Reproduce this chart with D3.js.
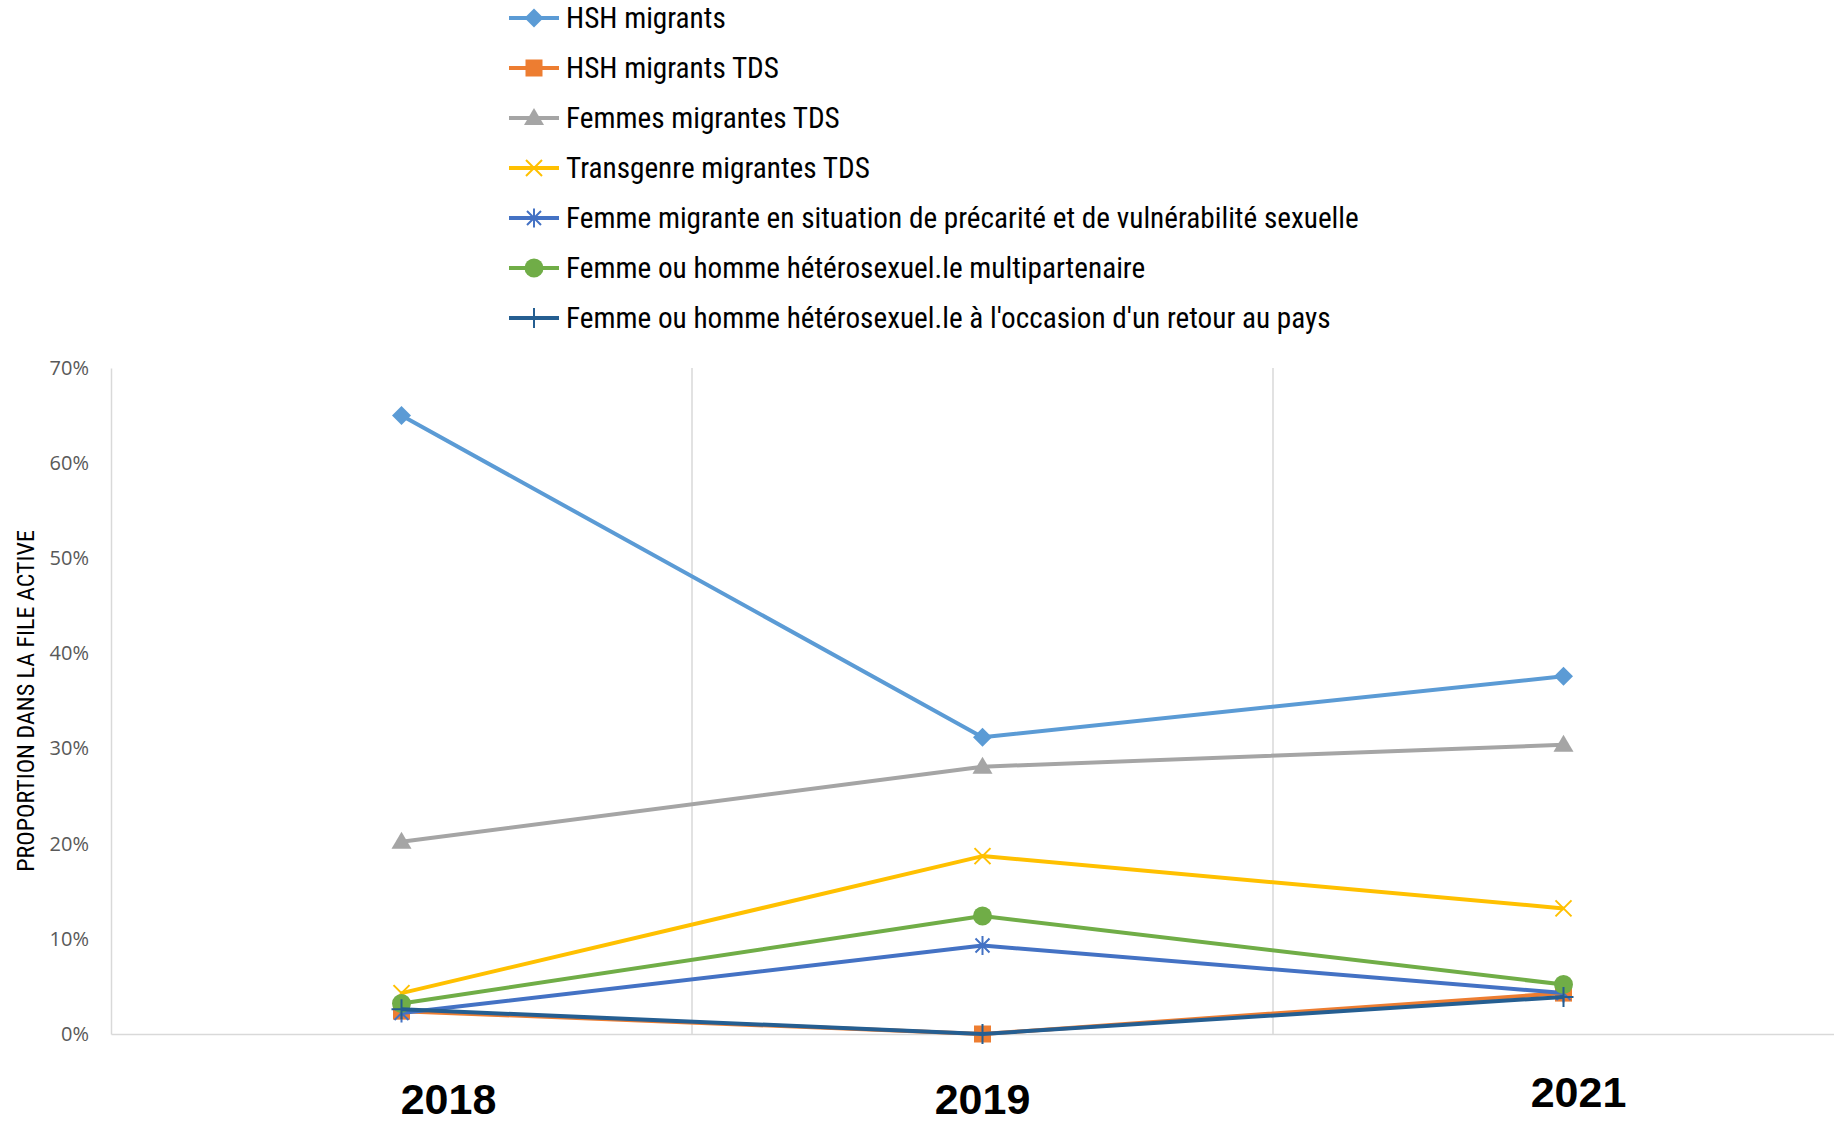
<!DOCTYPE html>
<html>
<head>
<meta charset="utf-8">
<script src="https://cdn.jsdelivr.net/npm/d3@7"></script>
<style>
  html, body { margin: 0; padding: 0; background: #ffffff; }
  svg { display: block; }
</style>
</head>
<body>
<svg id="chart" width="1834" height="1123"></svg>
<script>
// ---------- data ----------
const years = ["2018", "2019", "2021"];
const seriesNames = [
  "HSH migrants",
  "HSH migrants TDS",
  "Femmes migrantes TDS",
  "Transgenre migrantes TDS",
  "Femme migrante en situation de précarité et de vulnérabilité sexuelle",
  "Femme ou homme hétérosexuel.le multipartenaire",
  "Femme ou homme hétérosexuel.le à l'occasion d'un retour au pays"
];
const hshMigrants        = [0.650, 0.312, 0.376];
const hshMigrantsTDS     = [0.024, 0.000, 0.043];
const femmesMigrantesTDS = [0.202, 0.281, 0.304];
const transgenreTDS      = [0.043, 0.187, 0.132];
const femmePrecarite     = [0.022, 0.093, 0.043];
const heteroMulti        = [0.032, 0.124, 0.052];
const heteroRetour       = [0.026, 0.000, 0.039];
const yTicks = [0, 0.1, 0.2, 0.3, 0.4, 0.5, 0.6, 0.7];
const yTitle = "PROPORTION DANS LA FILE ACTIVE";

const seriesValues = [hshMigrants, hshMigrantsTDS, femmesMigrantesTDS, transgenreTDS,
                      femmePrecarite, heteroMulti, heteroRetour];

// ---------- styles ----------
const colors = ["#5B9BD5", "#ED7D31", "#A5A5A5", "#FFC000", "#4472C4", "#70AD47", "#255E91"];
const markers = ["diamond", "square", "triangle", "x", "star", "circle", "plus"];

function markerPath(type) {
  switch (type) {
    case "diamond": return "M0,-9.5L9.5,0L0,9.5L-9.5,0Z";
    case "square": return "M-8.5,-8.5H8.5V8.5H-8.5Z";
    case "triangle": return "M0,-10L10,7L-10,7Z";
    case "x": return "M-8,-8L8,8M-8,8L8,-8";
    case "star": return "M-7,-7L7,7M-7,7L7,-7M0,-9.5L0,9.5";
    case "circle": return "M9.5,0A9.5,9.5 0 1,1 -9.5,0A9.5,9.5 0 1,1 9.5,0Z";
    case "plus": return "M-10,0L10,0M0,-10L0,10";
  }
}
const filledMarker = t => ["diamond", "square", "triangle", "circle"].includes(t);

const svg = d3.select("#chart");

const plotLeft = 111, plotRight = 1854, plotTop = 368, plotBottom = 1034;

const x = d3.scaleBand().domain(years).range([plotLeft, plotRight]).paddingInner(0).paddingOuter(0);
const y = d3.scaleLinear().domain([0, 0.7]).range([plotBottom, plotTop]);

// vertical gridlines between categories
svg.append("g").selectAll("line")
  .data(years.slice(1))
  .join("line")
  .attr("x1", d => x(d)).attr("x2", d => x(d))
  .attr("y1", plotTop).attr("y2", plotBottom)
  .attr("stroke", "#D9D9D9").attr("stroke-width", 1.5);

// y axis
const yAxis = d3.axisLeft(y).tickValues(yTicks).tickFormat(d3.format(".0%")).tickSize(0).tickPadding(22);
const gy = svg.append("g").attr("transform", `translate(${plotLeft},0)`).call(yAxis);
gy.select(".domain").attr("stroke", "#D9D9D9").attr("stroke-width", 1.5);
gy.selectAll("text")
  .attr("font-family", "'Open Sans', 'Noto Sans', sans-serif")
  .attr("font-size", 20).attr("fill", "#595959");

// x axis line
const xAxis = d3.axisBottom(x).tickSize(0).tickFormat("");
const gx = svg.append("g").attr("transform", `translate(0,${plotBottom})`).call(xAxis);
gx.select(".domain").attr("stroke", "#D9D9D9").attr("stroke-width", 1.5);

// x category labels (big bold)
const labelNudge = { "2018": [47, 80], "2019": [0, 80], "2021": [15, 73] };
svg.append("g").selectAll("text")
  .data(years)
  .join("text")
  .attr("x", d => x(d) + x.bandwidth() / 2 + labelNudge[d][0])
  .attr("y", d => plotBottom + labelNudge[d][1])
  .attr("text-anchor", "middle")
  .attr("font-family", "'Liberation Sans', Arial, sans-serif")
  .attr("font-weight", "bold")
  .attr("font-size", 43)
  .attr("fill", "#000000")
  .text(d => d);

// y title
svg.append("text")
  .attr("transform", `translate(34,701) rotate(-90)`)
  .attr("text-anchor", "middle")
  .attr("font-family", "'Liberation Sans Narrow', 'Roboto Condensed', 'Liberation Sans', sans-serif")
  .attr("font-size", 24)
  .attr("fill", "#000000")
  .text(yTitle);

// series lines
const line = d3.line().x((d, i) => x(years[i]) + x.bandwidth() / 2).y(d => y(d));
const gSeries = svg.append("g");
seriesValues.forEach((vals, si) => {
  const g = gSeries.append("g");
  g.append("path")
    .attr("d", line(vals))
    .attr("fill", "none")
    .attr("stroke", colors[si])
    .attr("stroke-width", 4)
    .attr("stroke-linejoin", "round");
  g.selectAll("path.m")
    .data(vals)
    .join("path")
    .attr("class", "m")
    .attr("transform", (d, i) => `translate(${x(years[i]) + x.bandwidth() / 2},${y(d)})`)
    .attr("d", markerPath(markers[si]))
    .attr("fill", filledMarker(markers[si]) ? colors[si] : "none")
    .attr("stroke", colors[si])
    .attr("stroke-width", filledMarker(markers[si]) ? 0 : 2);
});

// legend
const legX = 509, legY0 = 18, legStep = 50;
const leg = svg.append("g");
seriesNames.forEach((name, si) => {
  const yy = legY0 + si * legStep;
  leg.append("line")
    .attr("x1", legX).attr("x2", legX + 50)
    .attr("y1", yy).attr("y2", yy)
    .attr("stroke", colors[si]).attr("stroke-width", 4);
  leg.append("path")
    .attr("transform", `translate(${legX + 25},${yy})`)
    .attr("d", markerPath(markers[si]))
    .attr("fill", filledMarker(markers[si]) ? colors[si] : "none")
    .attr("stroke", colors[si])
    .attr("stroke-width", filledMarker(markers[si]) ? 0 : 2);
  leg.append("text")
    .attr("class", "legtext")
    .attr("x", legX + 57)
    .attr("y", yy)
    .attr("dy", "0.35em")
    .attr("font-family", "'Liberation Sans Narrow', 'Roboto Condensed', 'Liberation Sans', sans-serif")
    .attr("font-size", 24)
    .attr("fill", "#000000")
    .text(name);
});
// fit legend font so that the longest entry matches the reference width
const longest = leg.selectAll("text.legtext").nodes()
  .reduce((a, n) => Math.max(a, n.getComputedTextLength()), 0);
const fs = 24 * 793 / longest;
leg.selectAll("text.legtext").attr("font-size", fs);
</script>
</body>
</html>
